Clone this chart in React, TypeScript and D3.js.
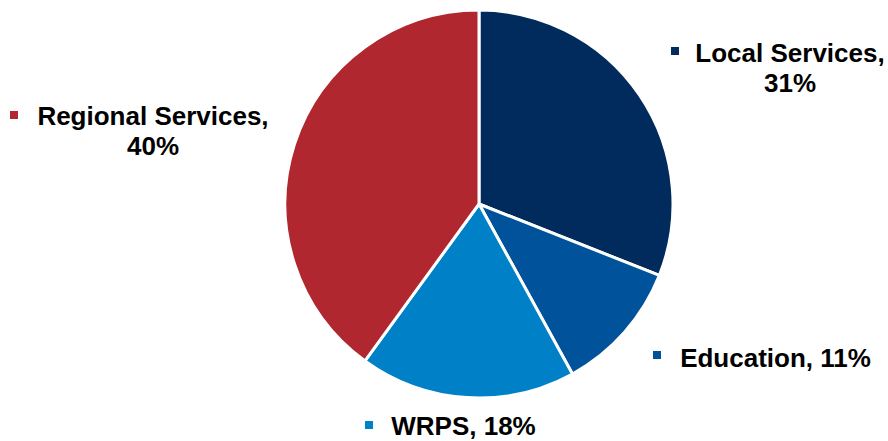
import React from "react";
import * as d3 from "d3";

const categories = ["Local Services", "Education", "WRPS", "Regional Services"];
const values = [31, 11, 18, 40];
const colors = ["#002B5C", "#00529B", "#0080C6", "#B0272F"];

// label layout: anchor x (center of text block), baseline y of first line
const labelLayout: Record<string, { cx: number; y: number; twoLine: boolean; markerX: number; markerY: number }> = {
  "Local Services": { cx: 790, y: 62, twoLine: true, markerX: 671, markerY: 47 },
  "Education": { cx: 775.5, y: 367, twoLine: false, markerX: 653, markerY: 351 },
  "WRPS": { cx: 463.5, y: 435, twoLine: false, markerX: 365, markerY: 421 },
  "Regional Services": { cx: 153, y: 125, twoLine: true, markerX: 10, markerY: 111 },
};

const W = 888;
const H = 441;
const CX = 479;
const CY = 204;
const R = 194;

export default function App() {
  const data = categories.map((c, i) => ({ name: c, value: values[i], color: colors[i] }));
  const pie = d3.pie<any>().value((d: any) => d.value).sort(null);
  const arcs = pie(data);
  const arc = d3.arc<any>().innerRadius(0).outerRadius(R);
  const font = "'Liberation Sans', Arial, sans-serif";
  return (
    <svg width={W} height={H} style={{ position: "absolute", left: 0, top: 0, background: "#fff" }}>
      <g transform={`translate(${CX},${CY})`}>
        {arcs.map((a, i) => (
          <path key={i} d={arc(a) as string} fill={a.data.color} stroke="#fff" strokeWidth={3} strokeLinejoin="round" />
        ))}
      </g>
      {data.map((d) => {
        const L = labelLayout[d.name];
        return (
          <g key={d.name} fontFamily={font} fontWeight="bold" fontSize={26} fill="#000">
            <rect x={L.markerX} y={L.markerY} width={8} height={8} fill={d.color} />
            {L.twoLine ? (
              <>
                <text x={L.cx} y={L.y} textAnchor="middle">{d.name + ","}</text>
                <text x={L.cx} y={L.y + 30} textAnchor="middle">{d.value + "%"}</text>
              </>
            ) : (
              <text x={L.cx} y={L.y} textAnchor="middle">{`${d.name}, ${d.value}%`}</text>
            )}
          </g>
        );
      })}
    </svg>
  );
}
